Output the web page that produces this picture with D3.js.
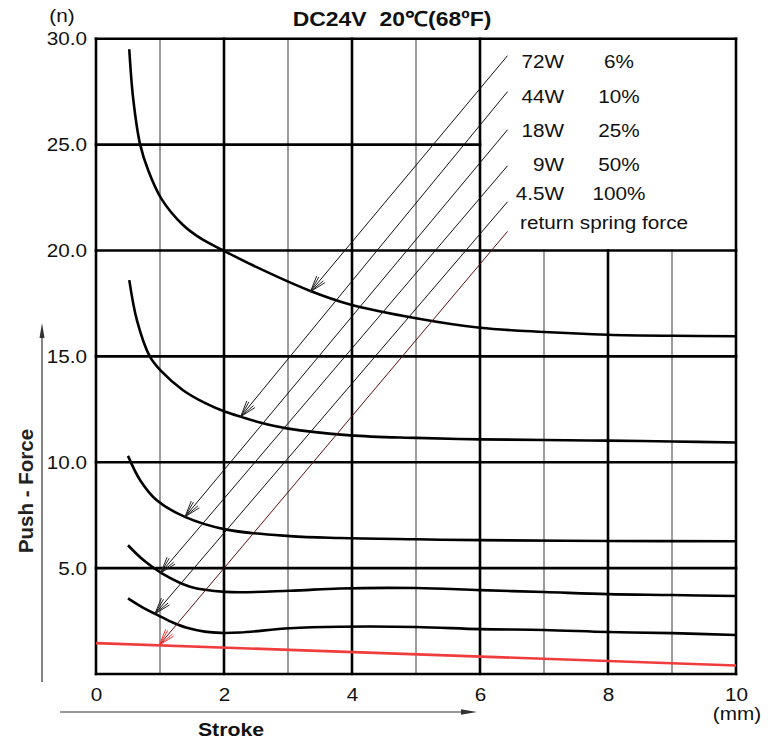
<!DOCTYPE html>
<html><head><meta charset="utf-8">
<script src="https://cdn.jsdelivr.net/npm/d3@7"></script>
<style>html,body{margin:0;padding:0;background:#fff}svg{display:block}</style>
</head><body><svg id="c" width="776" height="740"></svg>
<script>
// ---------- data ----------
const xMajorTicks=[0,2,4,6,8,10];
const xMinorTicks=[1,3,5,7,9];
const yMajorTicks=[5,10,15,20,25,30];
const xTickLabels=["0","2","4","6","8","10"];
const yTickLabels=["5.0","10.0","15.0","20.0","25.0","30.0"];
const powers=["72W","44W","18W","9W","4.5W"];
const duties=["6%","10%","25%","50%","100%"];
const force72W=[[0.52,29.5],[0.58,27.2],[0.69,25.0],[0.82,23.75],[1.02,22.45],[1.36,21.2],[1.63,20.58],[1.99,20.0],[2.45,19.3],[3.34,18.1],[3.97,17.45],[5.0,16.8],[6.0,16.35],[7.0,16.15],[8.0,16.02],[9.0,15.97],[10.0,15.95]];
const force44W=[[0.52,18.6],[0.64,16.7],[0.84,15.0],[1.02,14.3],[1.36,13.4],[1.7,12.8],[2.02,12.38],[2.28,12.13],[2.56,11.88],[2.98,11.6],[3.97,11.27],[5.0,11.15],[6.0,11.08],[7.0,11.05],[8.0,11.02],[9.0,10.98],[10.0,10.93]];
const force18W=[[0.5,10.3],[0.69,9.15],[0.95,8.2],[1.39,7.42],[2.02,6.83],[3.03,6.51],[3.81,6.42],[5.0,6.36],[6.0,6.32],[8.0,6.28],[10.0,6.27]];
const force9W=[[0.5,6.08],[0.74,5.38],[1.03,4.75],[1.47,4.12],[2.02,3.88],[3.03,3.93],[3.81,4.04],[5.0,4.06],[6.0,3.96],[7.0,3.87],[8.0,3.77],[9.0,3.73],[10.0,3.68]];
const force4_5W=[[0.5,3.57],[0.74,3.12],[0.95,2.8],[1.2,2.43],[1.42,2.18],[1.7,2.0],[1.95,1.94],[2.25,1.96],[3.03,2.16],[3.81,2.23],[5.0,2.22],[6.0,2.12],[7.0,2.08],[8.0,1.98],[9.0,1.93],[10.0,1.84]];
const springStroke=[0,10];
const springForce=[1.46,0.4];
const leaderFrom=[[6.43,29.2],[6.43,27.5],[6.43,25.7],[6.43,24.0],[6.43,22.3]];
const leaderTo=[[3.35,18.05],[2.26,12.15],[1.39,7.42],[1.01,4.77],[0.92,2.84]];
const springLeaderFrom=[6.43,20.9];
const springLeaderTo=[0.99,1.37];
const legendBox={x0:6,x1:10,y0:20,y1:30};

// ---------- layout ----------
const FONT='"Liberation Sans", Arial, Helvetica, sans-serif';
const SX=1.12;
const svg=d3.select("#c");
const x=d3.scaleLinear().domain([0,10]).range([96,736]);
const y=d3.scaleLinear().domain([0,30]).range([674,38.7]);

function txt(sel,px,py,s,o={}){
  const size=o.size||18.5, w=o.weight||"normal", a=o.anchor||"start", sx=o.sx===undefined?SX:o.sx;
  return sel.append("text").attr("transform",`translate(${px},${py}) scale(${sx},1)`)
    .attr("text-anchor",a).attr("font-size",size).attr("font-weight",w)
    .attr("font-family",FONT).attr("fill","#111").text(s);
}

// grid
const grid=svg.append("g");
xMinorTicks.forEach(v=>{
  const top=(v>legendBox.x0&&v<legendBox.x1)?legendBox.y0:30;
  grid.append("line").attr("x1",x(v)).attr("x2",x(v)).attr("y1",y(0)).attr("y2",y(top))
    .attr("stroke","#5a5a5a").attr("stroke-width",1.2);
});
[0].concat(yMajorTicks).forEach(h=>{
  const right=(h>legendBox.y0&&h<legendBox.y1)?legendBox.x0:10;
  grid.append("line").attr("x1",x(0)).attr("x2",x(right)).attr("y1",y(h)).attr("y2",y(h))
    .attr("stroke","#000").attr("stroke-width",2.6).attr("stroke-linecap","square");
});
xMajorTicks.forEach(v=>{
  const top=(v>legendBox.x0&&v<legendBox.x1)?legendBox.y0:30;
  grid.append("line").attr("x1",x(v)).attr("x2",x(v)).attr("y1",y(0)).attr("y2",y(top))
    .attr("stroke","#000").attr("stroke-width",2.6).attr("stroke-linecap","square");
});

// axes (labels only)
const gx=svg.append("g").attr("transform",`translate(0,${y(0)})`)
  .call(d3.axisBottom(x).tickValues(xMajorTicks).tickFormat((d,i)=>xTickLabels[i]).tickSize(0).tickPadding(14));
gx.select(".domain").remove();
gx.selectAll("text").attr("font-size",18.5).attr("font-family",FONT).attr("fill","#111").attr("transform",`scale(${SX},1)`);
const gy=svg.append("g").attr("transform",`translate(${x(0)},0)`)
  .call(d3.axisLeft(y).tickValues(yMajorTicks).tickFormat((d,i)=>yTickLabels[i]).tickSize(0).tickPadding(8));
gy.select(".domain").remove();
gy.selectAll("text").attr("font-size",18.5).attr("font-family",FONT).attr("fill","#111").attr("transform",`scale(${SX},1)`);

// curves
const line=d3.line().x(d=>x(d[0])).y(d=>y(d[1])).curve(d3.curveCatmullRom.alpha(0.5));
[force72W,force44W,force18W,force9W,force4_5W].forEach(s=>{
  svg.append("path").attr("d",line(s)).attr("fill","none").attr("stroke","#000").attr("stroke-width",2.6);
});

// leader arrows
function leader(from,to,lineColor,headColor){
  const x1=x(from[0]),y1=y(from[1]),x2=x(to[0]),y2=y(to[1]);
  svg.append("line").attr("x1",x1).attr("y1",y1).attr("x2",x2).attr("y2",y2)
    .attr("stroke",lineColor).attr("stroke-width",1);
  const a=Math.atan2(y1-y2,x1-x2), L=17;
  [-18,-10,10,18].forEach(t=>{
    const b=a+t*Math.PI/180;
    svg.append("line").attr("x1",x2).attr("y1",y2).attr("x2",x2+L*Math.cos(b)).attr("y2",y2+L*Math.sin(b))
      .attr("stroke",headColor).attr("stroke-width",1);
  });
}
leaderFrom.forEach((f,i)=>leader(f,leaderTo[i],"#111","#222"));
leader(springLeaderFrom,springLeaderTo,"#5a1010","#ff3535");

// spring line
svg.append("path").attr("d",d3.line().x(d=>x(d[0])).y(d=>y(d[1]))(springStroke.map((s,i)=>[s,springForce[i]])))
  .attr("stroke","#f03c3c").attr("stroke-width",2.6).attr("fill","none");

// legend
const legendBaselines=[68,103,137,171,200];
powers.forEach((p,i)=>txt(svg,564,legendBaselines[i],p,{anchor:"end"}));
duties.forEach((p,i)=>txt(svg,619,legendBaselines[i],p,{anchor:"middle"}));
txt(svg,520,229,"return spring force");

// titles
txt(svg,392,26,"DC24V  20℃(68ºF)",{size:20.5,weight:"bold",anchor:"middle"}).style("white-space","pre");
txt(svg,62,22,"(n)",{anchor:"middle"});
txt(svg,737,720,"(mm)",{anchor:"middle"});
txt(svg,231,736,"Stroke",{size:19,weight:"bold",anchor:"middle"});
svg.append("text").attr("transform","translate(33,491) rotate(-90)").attr("text-anchor","middle")
  .attr("font-size",20.5).attr("font-weight","bold").attr("font-family",FONT).attr("fill","#222").text("Push - Force");

// axis arrows
svg.append("line").attr("x1",42).attr("x2",42).attr("y1",682).attr("y2",334).attr("stroke","#333").attr("stroke-width",1.2);
svg.append("path").attr("d","M42,323 L39.5,338 L44.5,338 Z").attr("fill","#333");
svg.append("line").attr("x1",60).attr("x2",465).attr("y1",712).attr("y2",712).attr("stroke","#333").attr("stroke-width",1.2);
svg.append("path").attr("d","M477,712 L461,709.3 L461,714.7 Z").attr("fill","#333");
</script></body></html>
